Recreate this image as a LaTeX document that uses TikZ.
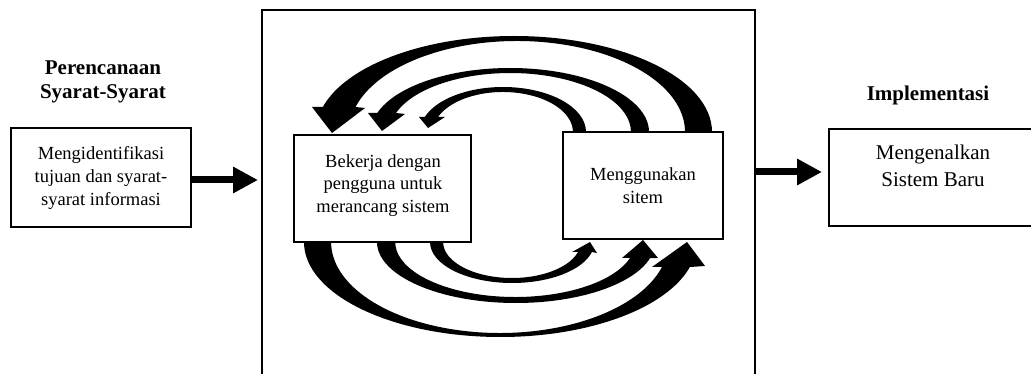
\documentclass[tikz,border=0pt]{standalone}
\usepackage{fontspec}
\setmainfont{Liberation Serif}
\usetikzlibrary{arrows.meta}

\begin{document}
\begin{tikzpicture}[x=1pt,y=1pt,
  box/.style={draw,line width=2pt,inner sep=0pt,outer sep=0pt,align=center,
    font=\fontsize{18.5}{23}\selectfont},
  txt/.style={align=center,font=\fontsize{18.5}{22.5}\selectfont},
  bigtxt/.style={align=center,font=\fontsize{21}{27}\selectfont},
  heading/.style={align=center,font=\bfseries\fontsize{21}{24}\selectfont},
  fat/.style={line width=7pt,-{Triangle[length=25pt,width=25pt]}},
  bent/.style={fill=black}]
\useasboundingbox (0,0) rectangle (1031,-374);
% requirements planning
\node[heading] (planhead) at (103,-82) {Perencanaan\\Syarat-Syarat};
\node[box,minimum width=180pt,minimum height=99pt] (ident) at (101,-177.5)
  {Mengidentifikasi\\tujuan dan syarat-\\syarat informasi};
% design workshop
\node[box,minimum width=493pt,minimum height=380pt,anchor=north west] (frame) at (262,-10) {};
\node[box,minimum width=177pt,minimum height=107pt] (work) at (382.5,-188.5) {};
\node[txt] (worktxt) at (383,-185.5) {Bekerja dengan\\pengguna untuk\\merancang sistem};
\node[box,minimum width=160pt,minimum height=107pt] (use) at (643,-185.5) {Menggunakan\\sitem};
% implementation
\node[heading] (implhead) at (928,-95.5) {Implementasi};
\node[box,minimum width=220pt,minimum height=97pt,anchor=north west] (intro) at (829,-129) {};
\node[bigtxt] (introtxt) at (933,-166) {Mengenalkan\\Sistem Baru};
% straight arrows
\coordinate (l0) at ([yshift=-2.5pt]ident.east);
\draw[fat] (l0) -- ([xshift=-4pt]l0 -| frame.west);
\coordinate (r0) at ([yshift=5.5pt]intro.west);
\draw[fat] (r0 -| frame.east) -- ([xshift=-7pt]r0);
% arrows over the top
\fill[bent] (712,-132) arc[start angle=0,end angle=164.9,x radius=198pt,y radius=96pt]
  -- (312,-107) -- (332,-133) -- (365,-108) -- (355.5,-107)
  arc[start angle=164.05,end angle=0,x radius=168pt,y radius=91pt] -- cycle;
\fill[bent] (649,-132) arc[start angle=0,end angle=162.73,x radius=139pt,y radius=64pt]
  -- (368,-113) -- (382,-131) -- (405,-114) -- (396,-113)
  arc[start angle=161.21,end angle=0,x radius=120.7pt,y radius=59pt] -- cycle;
\fill[bent] (586,-132) arc[start angle=0,end angle=160.53,x radius=83pt,y radius=45pt]
  -- (419,-117) -- (428,-128) -- (445,-117) -- (438,-117)
  arc[start angle=157.98,end angle=0,x radius=70pt,y radius=40pt] -- cycle;
% arrows under the bottom
\fill[bent] (304,-242) arc[start angle=180,end angle=344.73,x radius=196.4pt,y radius=95pt]
  -- (705,-266) -- (687,-242) -- (652,-267) -- (662,-267)
  arc[start angle=344.05,end angle=180,x radius=168.7pt,y radius=91pt] -- cycle;
\fill[bent] (377,-242) arc[start angle=180,end angle=344.79,x radius=139pt,y radius=61pt]
  -- (658,-258) -- (643,-240) -- (622,-258) -- (630,-258)
  arc[start angle=343.09,end angle=180,x radius=120pt,y radius=55pt] -- cycle;
\fill[bent] (430,-242) arc[start angle=180,end angle=345.88,x radius=82.2pt,y radius=41pt]
  -- (597,-253) -- (590,-242) -- (572,-252) -- (578,-252)
  arc[start angle=343.87,end angle=180,x radius=68.8pt,y radius=36pt] -- cycle;
\end{tikzpicture}
\end{document}
